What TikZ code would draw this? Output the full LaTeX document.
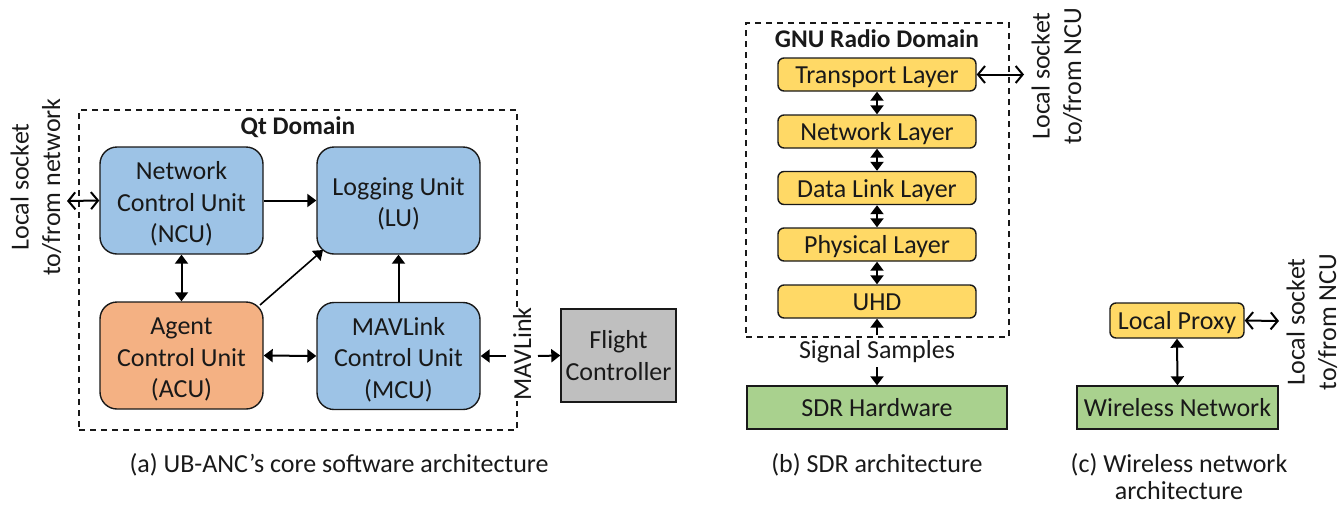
\documentclass[tikz,border=0pt]{standalone}
\usepackage{fontspec}
\setmainfont{Carlito}
\usetikzlibrary{arrows.meta}
\definecolor{blueb}{HTML}{9DC3E6}
\definecolor{orangeb}{HTML}{F4B183}
\definecolor{yellowb}{HTML}{FFD966}
\definecolor{greenb}{HTML}{A9D18E}
\definecolor{grayb}{HTML}{BFBFBF}
\newcommand{\tstrut}{\rule{0pt}{25pt}}
\tikzset{
  x=1pt,y=-1pt,
  every node/.style={font=\fontsize{26}{31.5}\selectfont,align=center,inner sep=0pt,text=black!90},
  unitbox/.style={draw=black!90,line width=1.4pt,rounded corners=17pt,minimum width=163pt,minimum height=107pt},
  layerbox/.style={draw=black!90,line width=1.4pt,rounded corners=6pt,fill=yellowb,minimum width=198pt,minimum height=33pt,text height=18pt,text depth=0pt},
  flatbox/.style={draw=black!90,line width=1.4pt,minimum height=43pt,fill=greenb,text height=18pt,text depth=0pt},
  domainbox/.style={draw=black!90,line width=1.1pt,dash pattern=on 6pt off 5pt},
  dlabel/.style={font=\fontsize{25.4}{30}\selectfont\bfseries},
  solidarr/.style={line width=2pt,draw=black,-{Triangle[length=9pt,width=13pt]}},
  solidboth/.style={line width=2pt,draw=black,{Triangle[length=9pt,width=13pt]}-{Triangle[length=9pt,width=13pt]}},
  openboth/.style={line width=2pt,draw=black,{Straight Barb[length=7pt,width=17pt,line width=2pt]}-{Straight Barb[length=7pt,width=17pt,line width=2pt]}},
}
\begin{document}
\begin{tikzpicture}
\useasboundingbox (0,0) rectangle (1342,504);
% domains
\node[domainbox,minimum width=438pt,minimum height=320pt] (qt) at (298,270) {};
\node[domainbox,minimum width=263pt,minimum height=314pt] (gnu) at (877.5,180) {};
\node[dlabel] (qtl) at (298,127) {Qt Domain};
\node[dlabel] (gnul) at (877,39) {GNU Radio Domain};
% part a
\node[unitbox,fill=blueb] (ncu) at (181.5,200.5) {\tstrut Network\\Control Unit\\(NCU)};
\node[unitbox,fill=blueb] (lu) at (398.5,200.5) {\tstrut Logging Unit\\(LU)};
\node[unitbox,fill=orangeb] (acu) at (181.5,355.5) {\tstrut Agent\\Control Unit\\(ACU)};
\node[unitbox,fill=blueb] (mcu) at (398.5,356) {\tstrut MAVLink\\Control Unit\\(MCU)};
\node[draw=black!90,line width=1.4pt,fill=grayb,minimum width=115pt,minimum height=93pt] (fc) at (618.5,355.5) {Flight\\Controller};
\node[rotate=90] (sock1) at (36,187) {Local socket\\to/from network};
\node[rotate=90,fill=white] (mav) at (522,354) {MAVLink};
\coordinate (nl) at (67,201);
\coordinate (d1) at (260,305);
\coordinate (d2) at (323,250);
\coordinate (m1) at (506,356);
\coordinate (m2) at (538,356);
\draw[openboth] (nl) -- (ncu.west);
\draw[solidarr] (ncu.east) -- (lu.west);
\draw[solidboth] (ncu.south) -- (acu.north);
\draw[solidarr,line width=1.6pt] (d1) -- (d2);
\draw[solidarr] (mcu.north) -- (lu.south);
\draw[solidboth] (acu.east) -- (mcu.west);
\draw[solidarr] (m1) -- (mcu.east);
\draw[solidarr] (m2) -- (fc.west);
% part b
\node[layerbox] (tl) at (877,74.5) {Transport Layer};
\node[layerbox] (nw) at (877,131.5) {Network Layer};
\node[layerbox] (dl) at (877,188) {Data Link Layer};
\node[layerbox] (pl) at (877,244.5) {Physical Layer};
\node[layerbox] (uhd) at (877,301.5) {UHD};
\node[flatbox,minimum width=260pt] (sdr) at (877,407.5) {SDR Hardware};
\node (sig) at (877,352) {Signal Samples};
\node[rotate=90] (sock2) at (1057,76) {Local socket\\to/from NCU};
\coordinate (tr) at (1024,74.5);
\coordinate (s1) at (877,335);
\coordinate (s2) at (877,367);
\draw[openboth] (tl.east) -- (tr);
\draw[solidboth] (tl.south) -- (nw.north);
\draw[solidboth] (nw.south) -- (dl.north);
\draw[solidboth] (dl.south) -- (pl.north);
\draw[solidboth] (pl.south) -- (uhd.north);
\draw[solidarr] (s1) -- (uhd.south);
\draw[solidarr] (s2) -- (sdr.north);
% part c
\node[layerbox,minimum width=134pt,minimum height=35pt] (lp) at (1177,320.5) {Local Proxy};
\node[flatbox,minimum width=201pt] (wn) at (1177.5,407.5) {Wireless Network};
\node[rotate=90] (sock3) at (1312,322) {Local socket\\to/from NCU};
\coordinate (lr) at (1279,321);
\draw[openboth] (lp.east) -- (lr);
\draw[solidboth] (lp.south) -- (wn.north);
% captions
\node (ca) at (339,465) {(a) UB-ANC’s core software architecture};
\node (cb) at (877,465) {(b) SDR architecture};
\node[font=\fontsize{26}{27}\selectfont] (cc) at (1179,477) {(c) Wireless network\\architecture};
\end{tikzpicture}
\end{document}
